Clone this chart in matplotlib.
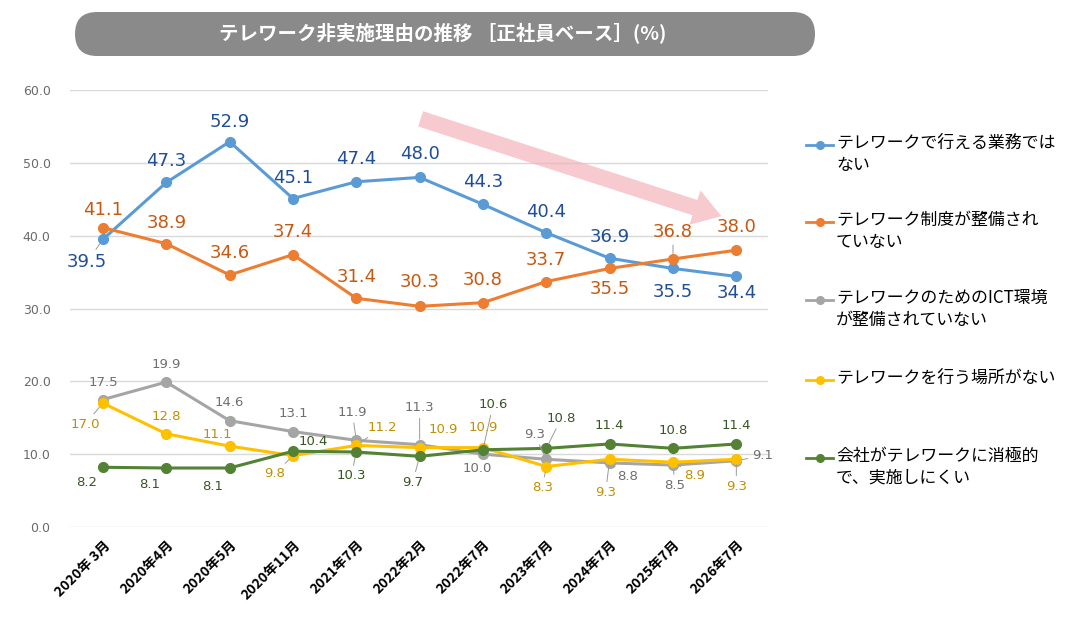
import matplotlib
matplotlib.use("Agg")
import matplotlib.pyplot as plt
from matplotlib.patches import FancyBboxPatch, FancyArrowPatch
from matplotlib.lines import Line2D
from matplotlib.transforms import IdentityTransform

plt.rcParams['font.family'] = ['Noto Sans CJK JP', 'DejaVu Sans']

# data
periods = ["2020年 3月", "2020年4月", "2020年5月", "2020年11月", "2021年7月", "2022年2月",
           "2022年7月", "2023年7月", "2024年7月", "2025年7月", "2026年7月"]
names = ["テレワークで行える業務では\nない",
         "テレワーク制度が整備され\nていない",
         "テレワークのためのICT環境\nが整備されていない",
         "テレワークを行う場所がない",
         "会社がテレワークに消極的\nで、実施しにくい"]
not_suited = [39.5, 47.3, 52.9, 45.1, 47.4, 48.0, 44.3, 40.4, 36.9, 35.5, 34.4]
no_system = [41.1, 38.9, 34.6, 37.4, 31.4, 30.3, 30.8, 33.7, 35.5, 36.8, 38.0]
no_ict = [17.5, 19.9, 14.6, 13.1, 11.9, 11.3, 10.0, 9.3, 8.8, 8.5, 9.1]
no_place = [17.0, 12.8, 11.1, 9.8, 11.2, 10.9, 10.9, 8.3, 9.3, 8.9, 9.3]
company_reluctant = [8.2, 8.1, 8.1, 10.4, 10.3, 9.7, 10.6, 10.8, 11.4, 10.8, 11.4]
series = [not_suited, no_system, no_ict, no_place, company_reluctant]

# styles
line_colors = ["#5B9BD5", "#ED7D31", "#A5A5A5", "#FFC000", "#548235"]
text_colors = ["#1F4E96", "#C65911", "#6F6F6F", "#BF9000", "#375623"]
label_sizes = [13, 13, 9.5, 9.5, 9.5]

# label offsets in pixels (dx, dy up)
offsets = [
    [(-16, -23), (0, 21), (0, 20), (0, 21), (0, 23), (0, 23), (0, 22), (0, 21), (0, 21), (0, -24), (0, -17)],
    [(0, 18), (0, 21), (0, 22), (0, 23), (0, 21), (0, 24), (0, 23), (0, 22), (0, -21), (0, 27), (0, 23)],
    [(0, 17), (0, 18), (0, 18), (0, 18), (-4, 28), (0, 37), (-6, -14), (-12, 25), (18, -14), (2, -20), (26, 5)],
    [(-18, -21), (0, 17), (-12, 12), (-18, -18), (26, 18), (24, 18), (0, 20), (-4, -21), (-4, -33), (22, -13), (0, -27)],
    [(-16, -15), (-17, -16), (-17, -18), (20, 10), (-5, -24), (-7, -26), (10, 45), (15, 30), (0, 18), (0, 18), (0, 18)],
]
leaders = [[0], [9], [4, 5, 7, 8, 9, 10], [0, 3, 4, 7, 8, 9, 10], [4, 5, 6, 7]]

fig = plt.figure(figsize=(10.8, 6.2), dpi=100)
ax = fig.add_axes([70 / 1080, 93 / 620, 698 / 1080, 437 / 620])

x = list(range(len(periods)))
for i, vals in enumerate(series):
    ax.plot(x, vals, color=line_colors[i], lw=2.2, marker='o', ms=7, zorder=3 + i * 0.1)
    for j, v in enumerate(vals):
        dx, dy = offsets[i][j]
        props = None
        if j in leaders[i]:
            props = dict(arrowstyle='-', color='#9a9a9a', lw=0.7, shrinkA=1, shrinkB=4)
        ax.annotate(f"{v:.1f}", (j, v), xytext=(dx, dy), textcoords='offset pixels',
                    ha='center', va='center', fontsize=label_sizes[i], family='DejaVu Sans',
                    color=text_colors[i], arrowprops=props, zorder=6)

ax.set_ylim(0, 60)
ax.set_xlim(-0.52, 10.5)
ax.set_yticks(range(0, 61, 10))
ax.set_yticklabels([f"{t:.1f}" for t in range(0, 61, 10)], color='#6a6a6a', fontsize=9,
                   family='DejaVu Sans')
ax.set_xticks(x)
ax.set_xticklabels(periods, rotation=45, ha='right', rotation_mode='anchor',
                   fontsize=10, fontweight='bold', color='black')
ax.tick_params(length=0, pad=8)
ax.tick_params(axis='y', pad=14)
ax.grid(axis='y', color='#d9d9d9', lw=1)
ax.set_axisbelow(True)
for s in ax.spines.values():
    s.set_visible(False)

# trend arrow
arrow = FancyArrowPatch((418 / 1080, 1 - 118 / 620), (724 / 1080, 1 - 217 / 620),
                        transform=fig.transFigure,
                        arrowstyle='simple,head_width=26,head_length=20,tail_width=11.5',
                        color='#F2AEB6', alpha=0.65, lw=0, zorder=2)
fig.add_artist(arrow)

# title box (pixel coordinates)
box = FancyBboxPatch((75, 620 - 56), 740, 44, boxstyle='round,pad=0,rounding_size=22',
                     transform=IdentityTransform(), facecolor='#8A8A8A', edgecolor='none')
fig.add_artist(box)
fig.text(443 / 1080, 1 - 34 / 620, "テレワーク非実施理由の推移 ［正社員ベース］(%)",
         ha='center', va='center', color='white', fontsize=14, fontweight='bold')

# legend drawn by hand
legend_y = [145, 222, 300, 380, 458]
for i, name in enumerate(names):
    yy = 1 - legend_y[i] / 620
    fig.add_artist(Line2D([806 / 1080, 833 / 1080], [yy, yy], transform=fig.transFigure,
                          color=line_colors[i], lw=2))
    fig.add_artist(Line2D([819.5 / 1080], [yy], transform=fig.transFigure,
                          color=line_colors[i], marker='o', ms=5.5))
    fig.text(836 / 1080, yy + 11 / 620, name, ha='left', va='top', fontsize=12.2,
             color='black', linespacing=1.25)

fig.savefig("out.png", dpi=100)
